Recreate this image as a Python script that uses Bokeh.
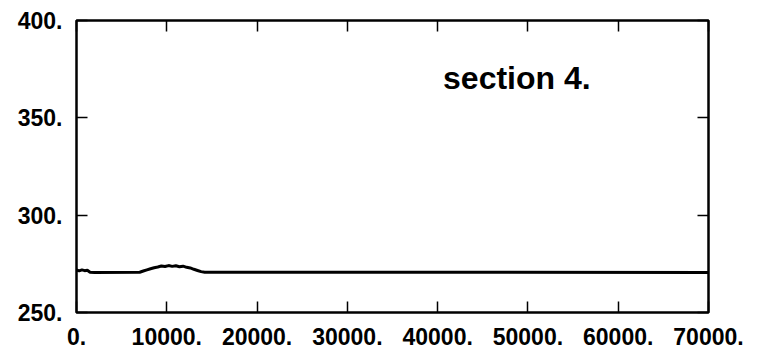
from bokeh.plotting import figure
from bokeh.models import Range1d, FixedTicker, LinearAxis, Label, ColumnDataSource
from bokeh.embed import file_html
from bokeh.resources import INLINE

# Cross-section profile along the run (distance vs. value)
distance = [0, 300, 600, 900, 1200, 1500, 2000, 7000, 7400, 7800, 8200, 8600,
            9000, 9400, 9800, 10200, 10600, 11000, 11400, 11800, 12200, 12600,
            13000, 13400, 13800, 14200, 70000]
level = [271.8, 271.4, 271.9, 271.5, 271.7, 270.7, 270.6, 270.7, 271.3, 271.9,
         272.5, 273.0, 273.4, 273.9, 273.6, 274.1, 273.7, 274.0, 273.5, 273.8,
         273.2, 272.9, 272.2, 271.6, 271.0, 270.7, 270.6]

x_ticks = [0, 10000, 20000, 30000, 40000, 50000, 60000, 70000]
y_ticks = [250, 300, 350, 400]
x_tick_labels = ["0.", "10000.", "20000.", "30000.", "40000.", "50000.", "60000.", "70000."]
y_tick_labels = ["250.", "300.", "350.", "400."]
title_text = "section 4."

FONT = "Liberation Sans"

p = figure(frame_width=632, frame_height=292,
           output_backend="svg", toolbar_location=None,
           x_range=Range1d(0, 70000), y_range=Range1d(250, 400),
           min_border_left=76, min_border_right=58,
           min_border_top=20, min_border_bottom=39,
           x_axis_location=None, y_axis_location=None)

p.outline_line_color = "black"
p.outline_line_width = 2.5
p.xgrid.visible = False
p.ygrid.visible = False
p.background_fill_color = "white"
p.border_fill_color = "white"


def style_axis(axis, ticks, labels, show_labels):
    axis.ticker = FixedTicker(ticks=ticks)
    axis.axis_line_color = None
    axis.major_tick_in = 11
    axis.major_tick_out = 0
    axis.major_tick_line_width = 1.5
    axis.major_tick_line_color = "black"
    axis.minor_tick_line_color = None
    if show_labels:
        axis.major_label_overrides = dict(zip(ticks, labels))
        axis.major_label_text_font = FONT
        axis.major_label_text_font_style = "bold"
        axis.major_label_text_font_size = "23px"
        axis.major_label_text_color = "black"
        axis.major_label_standoff = 14
    else:
        # frame-side ticks only, no numbers on the top and right edges
        axis.major_label_text_color = None
        axis.major_label_text_font_size = "1px"
        axis.major_label_standoff = 0


bottom = LinearAxis()
style_axis(bottom, x_ticks, x_tick_labels, True)
bottom.major_label_standoff = 15
p.add_layout(bottom, "below")

left = LinearAxis()
style_axis(left, y_ticks, y_tick_labels, True)
p.add_layout(left, "left")

top = LinearAxis()
style_axis(top, x_ticks, x_tick_labels, False)
p.add_layout(top, "above")

right = LinearAxis()
style_axis(right, y_ticks, y_tick_labels, False)
p.add_layout(right, "right")

src = ColumnDataSource(dict(x=distance, y=level))
p.line("x", "y", source=src, line_color="black", line_width=3)

p.add_layout(Label(x=40600, y=370.5, text=title_text,
                   text_font=FONT, text_font_style="bold",
                   text_font_size="32px", text_color="black",
                   text_baseline="alphabetic"))

open("out.html", "w").write(file_html(p, INLINE))
